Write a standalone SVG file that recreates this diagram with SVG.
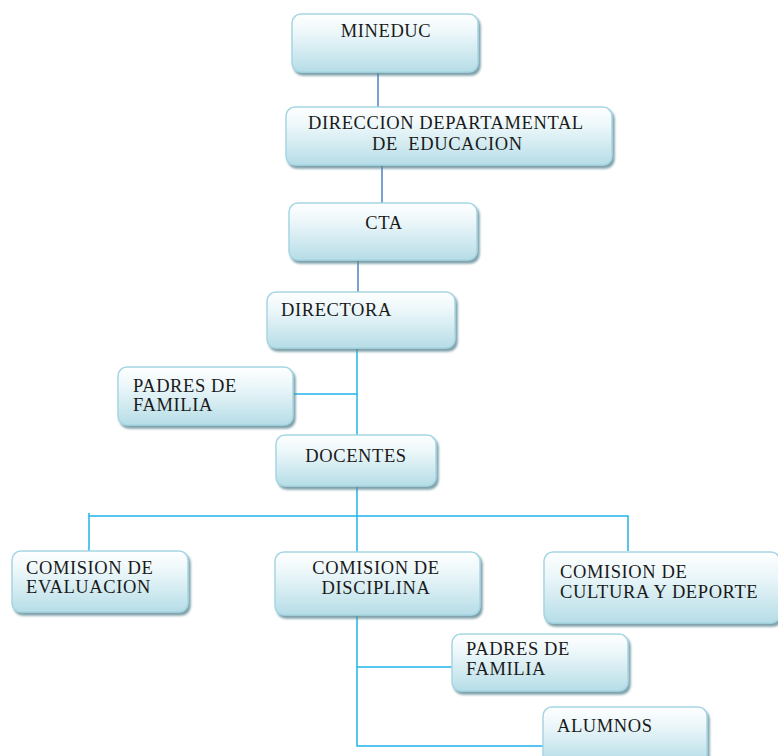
<svg xmlns="http://www.w3.org/2000/svg" width="778" height="756" viewBox="0 0 778 756">
<defs>
<linearGradient id="g" x1="0" y1="0" x2="0" y2="1">
<stop offset="0" stop-color="#ffffff"/>
<stop offset="0.35" stop-color="#eaf6f9"/>
<stop offset="1" stop-color="#b6dde7"/>
</linearGradient>
<filter id="sh" x="-10%" y="-10%" width="125%" height="130%">
<feGaussianBlur in="SourceAlpha" stdDeviation="1"/>
<feOffset dx="1.5" dy="2.5" result="o"/>
<feFlood flood-color="#5f8a96" flood-opacity="0.8"/>
<feComposite in2="o" operator="in"/>
<feMerge><feMergeNode/><feMergeNode in="SourceGraphic"/></feMerge>
</filter>
</defs>
<style>
.box{fill:url(#g);stroke:#a6d6e4;stroke-width:1.5;filter:url(#sh)}
.t{font-family:"Liberation Serif","Times New Roman",serif;font-size:18.5px;letter-spacing:0.6px;fill:#1a1a1a}
.c{text-anchor:middle}
.dk{stroke:#4f7fc4;stroke-width:1.5;fill:none}
.lt{stroke:#1fb4ea;stroke-width:1.5;fill:none}
</style>
<rect width="778" height="756" fill="#ffffff"/>
<g id="connectors">
<line class="dk" x1="378" y1="72" x2="378" y2="107"/>
<line class="dk" x1="382" y1="165" x2="382" y2="203"/>
<line class="dk" x1="358" y1="260" x2="358" y2="292"/>
<line class="lt" x1="357" y1="348" x2="357" y2="435"/>
<line class="lt" x1="293" y1="394" x2="357" y2="394"/>
<line class="lt" x1="357" y1="486" x2="357" y2="552"/>
<polyline class="lt" points="89,551 89,513 89,516 628,516 628,551"/>
<polyline class="lt" points="357,615 357,746 543,746"/>
<line class="lt" x1="357" y1="667" x2="453" y2="667"/>
</g>
<g id="mineduc">
<rect class="box" x="292" y="14" width="186" height="58" rx="9"/>
<text class="t c" x="386" y="37">MINEDUC</text>
</g>
<g id="direccion">
<rect class="box" x="286" y="107" width="326" height="58" rx="9"/>
<text class="t" x="308" y="129">DIRECCION DEPARTAMENTAL</text>
<text class="t" x="372" y="150" xml:space="preserve">DE  EDUCACION</text>
</g>
<g id="cta">
<rect class="box" x="289" y="203" width="188" height="57" rx="9"/>
<text class="t c" x="384" y="229">CTA</text>
</g>
<g id="directora">
<rect class="box" x="267" y="292" width="188" height="56" rx="9"/>
<text class="t" x="281" y="316">DIRECTORA</text>
</g>
<g id="padres1">
<rect class="box" x="118" y="367" width="175" height="58" rx="9"/>
<text class="t" x="133" y="392">PADRES DE</text>
<text class="t" x="133" y="411">FAMILIA</text>
</g>
<g id="docentes">
<rect class="box" x="276" y="435" width="160" height="51" rx="9"/>
<text class="t c" x="356" y="462">DOCENTES</text>
</g>
<g id="evaluacion">
<rect class="box" x="12" y="551" width="176" height="61" rx="9"/>
<text class="t" x="26" y="574">COMISION DE</text>
<text class="t" x="26" y="593">EVALUACION</text>
</g>
<g id="disciplina">
<rect class="box" x="275" y="552" width="205" height="63" rx="9"/>
<text class="t c" x="376" y="574">COMISION DE</text>
<text class="t c" x="376" y="594">DISCIPLINA</text>
</g>
<g id="cultura">
<rect class="box" x="544" y="552" width="236" height="71" rx="9"/>
<text class="t" x="560" y="578">COMISION DE</text>
<text class="t" x="560" y="598">CULTURA Y DEPORTE</text>
</g>
<g id="padres2">
<rect class="box" x="452" y="634" width="176" height="57" rx="9"/>
<text class="t" x="466" y="655">PADRES DE</text>
<text class="t" x="466" y="675">FAMILIA</text>
</g>
<g id="alumnos">
<rect class="box" x="543" y="707" width="164" height="56" rx="9"/>
<text class="t" x="557" y="732">ALUMNOS</text>
</g>
</svg>
